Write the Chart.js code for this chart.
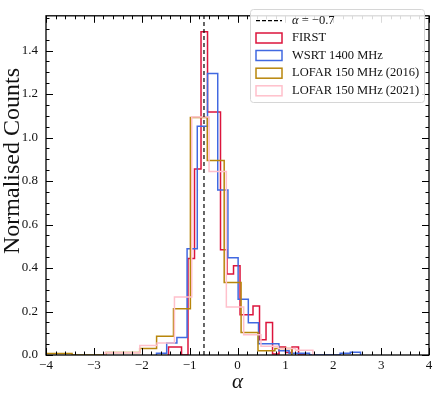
<!DOCTYPE html>
<html>
<head>
<meta charset="utf-8">
<script src="https://cdn.jsdelivr.net/npm/chart.js@4.4.0/dist/chart.umd.min.js"></script>
<style>
  html, body { margin: 0; padding: 0; background: #fff; }
  #wrap { width: 436px; height: 398px; }
</style>
</head>
<body>
<div id="wrap"><canvas id="chart"></canvas></div>
<script>
// bin edges (spectral index) and normalised counts
const firstEdges = [-1.441, -1.305, -1.169, -1.034, -0.898, -0.762, -0.626, -0.490, -0.355, -0.219, -0.083,
                    0.053, 0.189, 0.324, 0.460, 0.596, 0.732, 0.868, 1.003, 1.139, 1.275, 1.411];
const firstCounts = [0.037, 0.037, 0.0, 0.444, 0.855, 1.487, 1.117, 1.117, 0.484, 0.373, 0.41,
                     0.185, 0.185, 0.225, 0.07, 0.15, 0.005, 0.037, 0.012, 0.037, 0.0];

const wsrtEdges = [-1.692, -1.479, -1.266, -1.053, -0.840, -0.626, -0.413, -0.200, 0.013, 0.226, 0.439,
                   0.652, 0.865, 1.078, 1.291, 1.504, 1.717, 1.930, 2.144, 2.357, 2.570];
const wsrtCounts = [0.008, 0.055, 0.08, 0.489, 1.052, 1.295, 0.759, 0.447, 0.256, 0.148,
                    0.052, 0.052, 0.02, 0.008, 0.008, 0.0, 0.0, 0.0, 0.008, 0.013];

const lofar16Edges = [-4.161, -3.808, -3.455, -3.102, -2.749, -2.396, -2.043, -1.690, -1.337, -0.984,
                      -0.631, -0.278, 0.075, 0.428, 0.781, 1.134];
const lofar16Counts = [0.007, 0.007, 0.0, 0.0, 0.012, 0.012, 0.03, 0.086, 0.213, 1.092, 0.895,
                       0.333, 0.104, 0.02, 0.03];

const lofar21Edges = [-2.763, -2.402, -2.040, -1.679, -1.317, -0.956, -0.594, -0.233, 0.129, 0.490,
                      0.852, 1.213, 1.575];
const lofar21Counts = [0.01, 0.01, 0.044, 0.055, 0.267, 1.095, 0.844, 0.221, 0.093, 0.04, 0.03, 0.022];

const refAlpha = -0.7;
const xTickLabels = ['\u22124', '\u22123', '\u22122', '\u22121', '0', '1', '2', '3', '4'];
const yTickLabels = ['0.0', '0.2', '0.4', '0.6', '0.8', '1.0', '1.2', '1.4'];
const legendLabels = ['FIRST', 'WSRT 1400 MHz', 'LOFAR 150 MHz (2016)', 'LOFAR 150 MHz (2021)'];
const colors = ['#DC143C', '#4169E1', '#B8860B', '#FFC0CB'];
const yTitle = 'Normalised Counts';

const SERIF = "'Liberation Serif', 'DejaVu Serif', serif";

// outline of a step histogram: down at both ends, flat across each bin
function stepPoints(edges, counts) {
  const pts = [{ x: edges[0], y: 0 }];
  counts.forEach((c, i) => pts.push({ x: edges[i], y: c }));
  pts.push({ x: edges[edges.length - 1], y: 0 });
  return pts;
}

function histSet(label, edges, counts, color, order) {
  return {
    label: label,
    data: stepPoints(edges, counts),
    borderColor: color,
    borderWidth: 1.5,
    stepped: true,
    pointRadius: 0,
    fill: false,
    order: order
  };
}

function near(v, step) {
  return Math.abs(v / step - Math.round(v / step)) < 1e-6;
}

// inward ticks on all four sides, frame, y title and the legend box
const frame = {
  id: 'frame',
  afterDraw(chart) {
    const { ctx, chartArea: a, scales: { x, y } } = chart;
    ctx.save();
    ctx.strokeStyle = '#000';
    ctx.lineWidth = 1;
    ctx.beginPath();
    x.ticks.forEach(t => {
      if (!near(t.value, 0.2)) return;
      const px = Math.round(x.getPixelForValue(t.value)) + 0.5;
      const len = near(t.value, 1) ? 7 : 3.5;
      ctx.moveTo(px, a.bottom); ctx.lineTo(px, a.bottom - len);
      ctx.moveTo(px, a.top); ctx.lineTo(px, a.top + len);
    });
    y.ticks.forEach(t => {
      if (!near(t.value, 0.05)) return;
      const py = Math.round(y.getPixelForValue(t.value)) + 0.5;
      const len = near(t.value, 0.2) ? 7 : 3.5;
      ctx.moveTo(a.left, py); ctx.lineTo(a.left + len, py);
      ctx.moveTo(a.right, py); ctx.lineTo(a.right - len, py);
    });
    ctx.stroke();
    ctx.lineWidth = 1.3;
    ctx.strokeRect(a.left, a.top, a.right - a.left, a.bottom - a.top);

    // y axis title
    ctx.save();
    ctx.translate(13, 161);
    ctx.rotate(-Math.PI / 2);
    ctx.font = '24px ' + SERIF;
    ctx.fillStyle = '#111';
    ctx.textAlign = 'center';
    ctx.textBaseline = 'middle';
    ctx.fillText(yTitle, 0, 0);
    ctx.restore();

    // legend
    const bx = 250.5, by = 9.5, bw = 174, bh = 93;
    ctx.beginPath();
    ctx.roundRect(bx, by, bw, bh, 3);
    ctx.fillStyle = 'rgba(255,255,255,0.85)';
    ctx.fill();
    ctx.strokeStyle = '#d6d6d6';
    ctx.lineWidth = 1;
    ctx.stroke();

    const rows = [20.7, 38, 55.5, 73.2, 90.8];
    const hx = 256, hw = 26, tx = 292;
    ctx.textBaseline = 'middle';
    ctx.fillStyle = '#111';

    ctx.setLineDash([4, 2]);
    ctx.strokeStyle = '#000';
    ctx.lineWidth = 1.2;
    ctx.beginPath();
    ctx.moveTo(hx, rows[0]); ctx.lineTo(hx + hw, rows[0]);
    ctx.stroke();
    ctx.setLineDash([]);
    ctx.font = 'italic 12.5px ' + SERIF;
    ctx.fillText('\u03b1', tx, rows[0]);
    const w = ctx.measureText('\u03b1').width;
    ctx.font = '12.5px ' + SERIF;
    ctx.fillText(' = \u22120.7', tx + w, rows[0]);

    legendLabels.forEach((lab, i) => {
      const ry = rows[i + 1];
      ctx.strokeStyle = colors[i];
      ctx.lineWidth = 1.5;
      ctx.strokeRect(hx, ry - 5, hw, 10);
      ctx.fillStyle = '#111';
      ctx.fillText(lab, tx, ry);
    });
    ctx.restore();
  }
};

new Chart(document.getElementById('chart'), {
  type: 'line',
  data: {
    datasets: [
      {
        label: 'alpha',
        data: [{ x: refAlpha, y: 0 }, { x: refAlpha, y: 1.56 }],
        borderColor: '#000',
        borderWidth: 1.2,
        borderDash: [4, 3],
        pointRadius: 0,
        order: 0
      },
      histSet(legendLabels[0], firstEdges, firstCounts, colors[0], 4),
      histSet(legendLabels[1], wsrtEdges, wsrtCounts, colors[1], 3),
      histSet(legendLabels[2], lofar16Edges, lofar16Counts, colors[2], 2),
      histSet(legendLabels[3], lofar21Edges, lofar21Counts, colors[3], 1)
    ]
  },
  options: {
    responsive: true,
    maintainAspectRatio: false,
    animation: false,
    devicePixelRatio: 1,
    layout: { padding: { top: 4, right: 7, left: 0, bottom: 0 } },
    plugins: { legend: { display: false }, tooltip: { enabled: false } },
    scales: {
      x: {
        type: 'linear',
        min: -4,
        max: 4,
        afterFit: s => { s.height = 43; },
        grid: { display: false, drawTicks: false },
        border: { display: false },
        ticks: {
          stepSize: 0.2,
          autoSkip: false,
          maxRotation: 0,
          includeBounds: false,
          padding: 3,
          color: '#111',
          font: { family: SERIF, size: 13 },
          callback: v => near(v, 1) ? xTickLabels[Math.round(v) + 4] : ''
        },
        title: {
          display: true,
          text: '\u03b1',
          color: '#111',
          font: { family: SERIF, size: 21, style: 'italic', lineHeight: 1.2 },
          padding: { top: 0, bottom: 3 }
        }
      },
      y: {
        min: 0,
        max: 1.56,
        afterFit: s => { s.width = 46; },
        grid: { display: false, drawTicks: false },
        border: { display: false },
        ticks: {
          stepSize: 0.05,
          autoSkip: false,
          includeBounds: false,
          padding: 8,
          color: '#111',
          font: { family: SERIF, size: 13 },
          callback: v => near(v, 0.2) ? yTickLabels[Math.round(v / 0.2)] : ''
        }
      }
    }
  },
  plugins: [frame]
});
</script>
</body>
</html>
